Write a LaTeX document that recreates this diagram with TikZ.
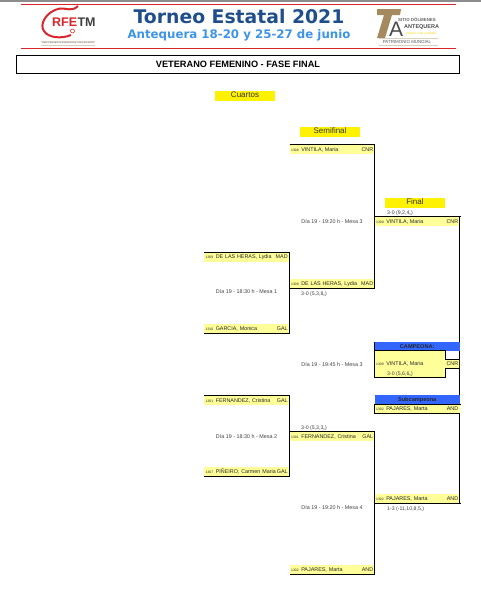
\documentclass[tikz,border=0pt]{standalone}
\usepackage{fontspec}
\setmainfont{Liberation Sans}
\newfontfamily\headfont{DejaVu Sans}
\usepackage{tikz}
\usetikzlibrary{positioning}
\definecolor{rowyellow}{HTML}{FFFF99}
\definecolor{headblue}{HTML}{3366FF}
\definecolor{torneoblue}{HTML}{1F4E8C}
\definecolor{sedeblue}{HTML}{3D94E8}
\definecolor{logored}{HTML}{D8262C}
\definecolor{logotan}{HTML}{A58A5F}
\newcommand{\seed}[1]{{\fontsize{3.4}{3}\selectfont #1}\hspace{2.5pt}}
\begin{document}
\begin{tikzpicture}[
    x=1pt, y=-1pt,
    rowbox/.style={fill=rowyellow, anchor=north west, minimum width=85pt, minimum height=9.5pt, text width=82pt, inner sep=1.5pt, align=left, font=\fontsize{5.4}{5.5}\selectfont, text=black!85},
    roundbox/.style={fill=yellow, minimum width=60pt, minimum height=10pt, inner sep=0pt, text height=5pt, text depth=3pt, font=\fontsize{8}{8}\selectfont, text=black!80},
    infolabel/.style={font=\fontsize{5.4}{6}\selectfont, text=black!75, inner sep=0pt},
    resultlabel/.style={font=\fontsize{5.2}{6}\selectfont, text=black!75, inner sep=0pt, anchor=west},
    bracket/.style={line width=1pt},
    bluebox/.style={fill=headblue, anchor=north west, minimum width=85pt, minimum height=9.5pt, inner sep=0pt, font=\fontsize{5.6}{6}\selectfont\bfseries, text=black!85},
    rule/.style={logotan!40, line width=0.5pt},
]
\useasboundingbox (0,0) rectangle (481,597);
\fill[black!45] (0,0) rectangle (481,1.5);
% Header
\draw[logored, line width=0.8pt] (21,4) -- (456,4);
\draw[logored, line width=0.8pt] (21,48) -- (456,48);
\node[font=\headfont\fontsize{18.8}{20}\selectfont\bfseries, text=torneoblue, inner sep=0pt] (torneo) at (239,16) {Torneo Estatal 2021};
\node[font=\headfont\fontsize{11.8}{13}\selectfont\bfseries, text=sedeblue, inner sep=0pt] (sede) at (239,35) {Antequera 18-20 y 25-27 de junio};
% RFETM logo
\draw[logored, line width=2pt] (78,6) .. controls (72,12) and (66,8) .. (60,8.5) .. controls (46,11) and (39,25) .. (44,31) .. controls (48,38) and (62,39) .. (71,35);
\draw[logored, line width=0.6pt] (72.5,31) circle (2);
\node[font=\fontsize{12.5}{13}\selectfont\bfseries, text=logored, inner sep=0pt, anchor=west] (rfe) at (52,22.5) {RFE};
\node[font=\fontsize{12.5}{13}\selectfont\bfseries, text=black!75, inner sep=0pt, right=0pt of rfe] (tm) {TM};
\node[font=\fontsize{2.6}{2}\selectfont, text=black!70, inner sep=0pt] (fed) at (68,43.3) {Real Federación Española de Tenis de Mesa};
\draw[rule] (41,41) -- (95,41);
\draw[rule] (41,45.5) -- (95,45.5);
% Patrimonio logo
\fill[logotan] (377,9) -- (401,9) -- (400,15) -- (392,15) -- (385,38) -- (377,38) -- (384,15) -- (377,15) -- cycle;
\node[font=\fontsize{21}{21}\selectfont, text=black!70, inner sep=0pt] (letra) at (396,29.5) {A};
\node[font=\fontsize{4.4}{5}\selectfont\bfseries, text=black!60, inner sep=0pt, anchor=west] (sitio) at (398,20) {SITIO DÓLMENES};
\node[font=\fontsize{5.5}{6}\selectfont\bfseries, text=black!70, inner sep=0pt, anchor=west] (ante) at (404,27) {ANTEQUERA};
\node[font=\fontsize{3.2}{4}\selectfont\itshape, text=yellow!70!orange, inner sep=0pt] (lema) at (421,34) {pasión, vida y piedra};
\node[font=\fontsize{4.4}{5}\selectfont, text=black!65, inner sep=0pt] (patrimonio) at (407,41.5) {PATRIMONIO MUNDIAL};
\draw[rule] (379,38.5) -- (438,38.5);
\draw[rule] (379,45) -- (438,45);
% Title
\node[draw, line width=0.8pt, minimum width=443pt, minimum height=18pt, inner sep=0pt, font=\fontsize{9.2}{10}\selectfont\bfseries] (titulo) at (238,64.5) {VETERANO FEMENINO - FASE FINAL};
% Rounds
\node[roundbox] (cuartos) at (245,96) {Cuartos};
\node[roundbox] (semifinal) at (330,132) {Semifinal};
\node[roundbox] (final) at (415,203) {Final};
% Cuartos
\node[rowbox] (c1) at (204,252.5) {\seed{1309}DE LAS HERAS, Lydia\hfill MAD};
\node[rowbox] (c2) at (204,323.5) {\seed{1310}GARCIA, Monica\hfill GAL};
\node[rowbox] (c3) at (204,395.5) {\seed{1301}FERNANDEZ, Cristina\hfill GAL};
\node[rowbox] (c4) at (204,467) {\seed{1307}PIÑEIRO, Carmen Maria\hfill GAL};
\draw[bracket] (c1.north west) -| (c2.south east) -- (c2.south west);
\draw[bracket] (c3.north west) -| (c4.south east) -- (c4.south west);
\node[infolabel] (m1) at (246.5,292) {Día 19 - 18:30 h - Mesa 1};
\node[infolabel] (m2) at (246.5,437) {Día 19 - 18:30 h - Mesa 2};
% Semifinal
\node[rowbox] (s1) at (289.5,144.5) {\seed{1309}VINTILA, Maria\hfill CNR};
\node[rowbox] (s2) at (289.5,278.8) {\seed{1309}DE LAS HERAS, Lydia\hfill MAD};
\node[rowbox] (s3) at (289.5,431.5) {\seed{1301}FERNANDEZ, Cristina\hfill GAL};
\node[rowbox] (s4) at (289.5,564.8) {\seed{1302}PAJARES, Marta\hfill AND};
\draw[bracket] (s1.north west) -| (s2.south east) -- (s2.south west);
\draw[bracket] (s3.north west) -| (s4.south east) -- (s4.south west);
\node[infolabel] (m3) at (332,222) {Día 19 - 19:20 h - Mesa 3};
\node[infolabel] (m4) at (332,508) {Día 19 - 19:20 h - Mesa 4};
\node[resultlabel] (r1) at (301,293.8) {3-0 (5,3,8,,)};
\node[resultlabel] (r2) at (301,428.3) {3-0 (5,3,3,,)};
% Final
\node[rowbox] (f1) at (374.5,216.5) {\seed{1309}VINTILA, Maria\hfill CNR};
\node[rowbox] (f2) at (374.5,493.8) {\seed{1302}PAJARES, Marta\hfill AND};
\draw[bracket] (f1.north west) -- ++(86.5,0);
\draw[bracket] (459.5,216.5) |- (f2.south west);
\draw[bracket] (f2.south east) -- ++(1.5,0);
\node[resultlabel] (r3) at (387,213) {3-0 (9,2,4,,)};
\node[resultlabel] (r4) at (387,508.8) {1-3 (-11,10,8,5,)};
\node[infolabel] (m5) at (332,365) {Día 19 - 19:45 h - Mesa 3};
% Campeona
\node[bluebox] (campeona) at (374.5,341.5) {CAMPEONA:};
\fill[rowyellow] (374.5,351) rectangle (445,377.5) (445,359) rectangle (459,368);
\draw[bracket] (374.5,341.5) -- (374.5,378);
\draw[bracket] (374.5,350.5) -- (445,350.5) -- (445,359) -- (459,359);
\draw[bracket] (459,368) -- (445,368) -- (445,377.5) -- (374.5,377.5);
\node[rowbox, fill=none] (ganadora) at (374.5,359.3) {\seed{1309}VINTILA, Maria\hfill CNR};
\node[resultlabel] (r5) at (387,374) {3-0 (5,6,6,,)};
% Subcampeona
\node[bluebox] (subcampeona) at (374.5,395) {Subcampeona};
\node[rowbox, minimum height=8.8pt] (finalista) at (374.5,404.5) {\seed{1302}PAJARES, Marta\hfill AND};
\draw[bracket] (finalista.north east) ++(1.5,0) -- (finalista.north west) |- (finalista.south east);
\end{tikzpicture}
\end{document}
